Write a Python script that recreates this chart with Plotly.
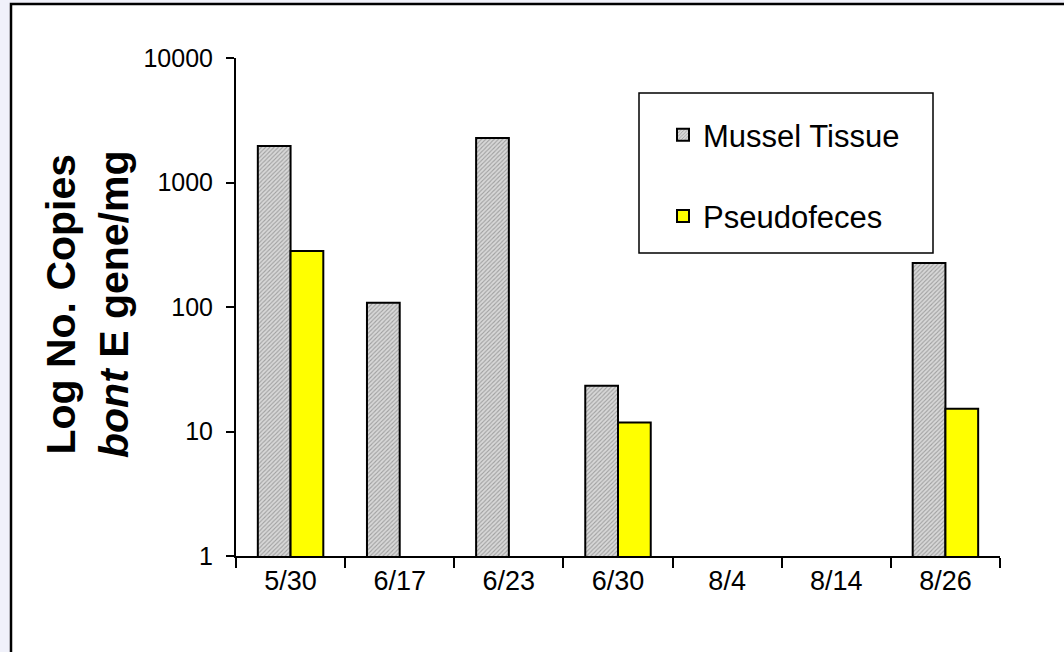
import plotly.graph_objects as go

dates = ["5/30", "6/17", "6/23", "6/30", "8/4", "8/14", "8/26"]
mussel_tissue = [1965, 108, 2280, 23.3, None, None, 226]
pseudofeces = [282, None, None, 11.8, None, None, 15.2]
y_tick_vals = [1, 10, 100, 1000, 10000]
y_tick_text = ["1", "10", "100", "1000", "10000"]

W, H = 1064, 652
L, R, T, B = 236, 64, 58, 96
pw, ph = W - L - R, H - T - B

def px(x):
    return (x - L) / pw

def py(y):
    return (H - B - y) / ph

FONT = "Liberation Sans, Arial, sans-serif"

fig = go.Figure()
fig.add_trace(go.Bar(
    x=dates, y=mussel_tissue, name="Mussel Tissue", legendgroup="a",
    marker=dict(color="#d0d0d0", line=dict(color="black", width=2),
                pattern=dict(shape="/", fgcolor="#666666", bgcolor="#d8d8d8",
                             size=3, solidity=0.35)),
))
fig.add_trace(go.Bar(
    x=dates, y=pseudofeces, name="Pseudofeces", legendgroup="b",
    marker=dict(color="#ffff00", line=dict(color="black", width=2)),
))

fig.update_layout(
    width=W, height=H,
    margin=dict(l=L, r=R, t=T, b=B, pad=0),
    paper_bgcolor="#f0f1fa", plot_bgcolor="white",
    barmode="group", bargap=0.4, bargroupgap=0,
    font=dict(family=FONT, color="black"),
    showlegend=True,
    legend=dict(x=px(663), y=py(108), xanchor="left", yanchor="top",
                bgcolor="rgba(0,0,0,0)", borderwidth=0,
                font=dict(size=31, family=FONT), tracegroupgap=38,
                traceorder="grouped"),
    xaxis=dict(showline=True, linecolor="black", linewidth=2, ticks="outside",
               ticklen=10, tickwidth=2, tickcolor="black", tickson="boundaries",
               tickfont=dict(size=27, family=FONT), showgrid=False, zeroline=False),
    yaxis=dict(type="log", range=[0, 4], showline=True, linecolor="black", linewidth=2,
               ticks="outside", ticklen=8, tickwidth=2, tickcolor="black",
               tickvals=y_tick_vals, ticktext=y_tick_text,
               tickfont=dict(size=25, family=FONT), ticklabelstandoff=8,
               showgrid=False, zeroline=False),
    shapes=[
        dict(type="rect", xref="paper", yref="paper", layer="below",
             x0=px(11), x1=px(1075), y0=py(665), y1=py(4),
             line=dict(color="black", width=2.5), fillcolor="white"),
        dict(type="rect", xref="paper", yref="paper", layer="above",
             x0=px(639), x1=px(933), y0=py(253), y1=py(93),
             line=dict(color="black", width=1.5), fillcolor="rgba(0,0,0,0)"),
    ],
    annotations=[
        dict(text="<b>Log No. Copies</b><br><b><i>bont</i> E gene/mg</b>",
             xref="paper", yref="paper", x=px(87), y=py(304),
             xanchor="center", yanchor="middle", textangle=-90, showarrow=False,
             font=dict(size=41, family=FONT, color="black")),
    ],
)

fig.write_html("out.html", config={"displayModeBar": False},
               post_script="document.body.style.margin='0';document.body.style.overflow='hidden';")
